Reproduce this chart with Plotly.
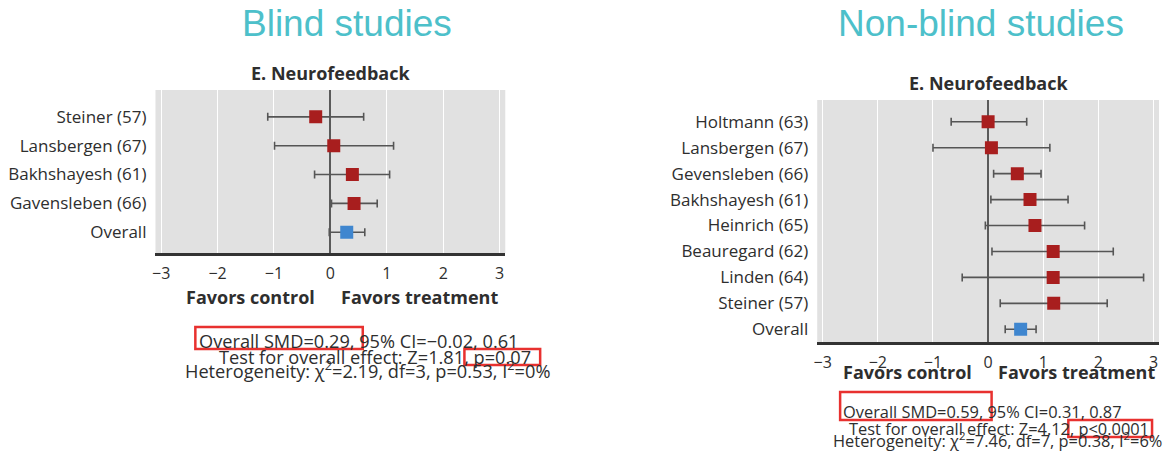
import plotly.graph_objects as go

# ---------------- data ----------------
blind_studies = ["Steiner (57)", "Lansbergen (67)", "Bakhshayesh (61)", "Gavensleben (66)", "Overall"]
blind_smd = [-0.26, 0.06, 0.39, 0.42, 0.29]
blind_ci_low = [-1.11, -0.99, -0.28, 0.02, -0.02]
blind_ci_high = [0.59, 1.12, 1.05, 0.83, 0.61]

nonblind_studies = ["Holtmann (63)", "Lansbergen (67)", "Gevensleben (66)", "Bakhshayesh (61)",
                    "Heinrich (65)", "Beauregard (62)", "Linden (64)", "Steiner (57)", "Overall"]
nonblind_smd = [0.00, 0.06, 0.53, 0.76, 0.85, 1.18, 1.18, 1.19, 0.59]
nonblind_ci_low = [-0.67, -1.00, 0.10, 0.05, -0.05, 0.07, -0.47, 0.22, 0.31]
nonblind_ci_high = [0.70, 1.12, 0.96, 1.45, 1.75, 2.27, 2.82, 2.16, 0.87]

x_ticks = [-3, -2, -1, 0, 1, 2, 3]

panel_titles = ["Blind studies", "Non-blind studies"]
subplot_title = "E. Neurofeedback"
favors_labels = ["Favors control", "Favors treatment"]

blind_stats = ["Overall SMD=0.29, 95% CI=\u22120.02, 0.61",
               "Test for overall effect: Z=1.81, p=0.07",
               "Heterogeneity: \u03c7<sup>2</sup>=2.19, df=3, p=0.53, I<sup>2</sup>=0%"]
nonblind_stats = ["Overall SMD=0.59, 95% CI=0.31, 0.87",
                  "Test for overall effect: Z=4.12, p<0.0001",
                  "Heterogeneity: \u03c7<sup>2</sup>=7.46, df=7, p=0.38, I<sup>2</sup>=6%"]

# ---------------- style ----------------
W, H = 1166, 466
FONT = "Open Sans"
RED = "#A81E1E"
BLUE = "#3F86CF"
TEAL = "#4DC0CA"
BAR = "#555555"
TXT = "#2e2e2e"


def px(x):
    return x / W


def py(y):
    return 1 - y / H


fig = go.Figure()


def add_panel(studies, smd, lo, hi, xa, ya):
    colors = [BLUE if s == "Overall" else RED for s in studies]
    fig.add_trace(go.Scatter(
        x=smd, y=list(range(len(studies))), mode="markers",
        marker=dict(symbol="square", size=13, color=colors, line=dict(width=0)),
        error_x=dict(type="data", symmetric=False,
                     array=[h - m for h, m in zip(hi, smd)],
                     arrayminus=[m - l for m, l in zip(smd, lo)],
                     color=BAR, thickness=1.6, width=4),
        xaxis=xa, yaxis=ya, showlegend=False, hoverinfo="skip"))


add_panel(blind_studies, blind_smd, blind_ci_low, blind_ci_high, "x", "y")
add_panel(nonblind_studies, nonblind_smd, nonblind_ci_low, nonblind_ci_high, "x2", "y2")

xaxis_common = dict(range=[-3.1, 3.1], tickvals=x_ticks, showgrid=True, gridcolor="white",
                    gridwidth=1.2, zeroline=True, zerolinecolor="#5a5a5a", zerolinewidth=1.6,
                    showline=True, linecolor="#333333", linewidth=3, ticks="",
                    ticklabelstandoff=4,
                    tickfont=dict(family=FONT, size=16, color=TXT), fixedrange=True)
yaxis_common = dict(showgrid=False, zeroline=False, ticks="", showline=False,
                    ticklabelstandoff=8,
                    tickfont=dict(family=FONT, size=17, color=TXT), fixedrange=True)

n1, n2 = len(blind_studies), len(nonblind_studies)
fig.update_layout(
    width=W, height=H, margin=dict(l=0, r=0, t=0, b=0),
    paper_bgcolor="white", plot_bgcolor="#E1E1E1",
    xaxis=dict(domain=[px(152), px(503)], anchor="y", **xaxis_common),
    yaxis=dict(domain=[py(253), py(90)], anchor="x", range=[n1 - 1 + 0.72, -0.93],
               tickvals=list(range(n1)), ticktext=blind_studies, **yaxis_common),
    xaxis2=dict(domain=[px(816), px(1159)], anchor="y2", **xaxis_common),
    yaxis2=dict(domain=[py(342), py(100)], anchor="x2", range=[n2 - 1 + 0.49, -0.84],
                tickvals=list(range(n2)), ticktext=nonblind_studies, **yaxis_common),
)

ann = []


def text(x, y, s, size=16, bold=False, color=TXT, family=FONT, xanchor="center"):
    ann.append(dict(x=px(x), y=py(y), xref="paper", yref="paper", text=(f"<b>{s}</b>" if bold else s),
                    showarrow=False, xanchor=xanchor, yanchor="middle", borderpad=0,
                    font=dict(family=family, size=size, color=color)))


# big panel titles
text(344, 23, panel_titles[0], size=37, color=TEAL, family="Liberation Sans")
text(980, 23, panel_titles[1], size=37, color=TEAL, family="Liberation Sans")
# subplot titles
text(328, 73, subplot_title, size=18, bold=True)
text(988, 83, subplot_title, size=18, bold=True)
# favors labels
text(247, 297, favors_labels[0], size=18, bold=True)
text(417, 297, favors_labels[1], size=18, bold=True)
text(907, 372, favors_labels[0], size=18, bold=True)
text(1076, 372, favors_labels[1], size=18, bold=True)
# stats lines (first line left-aligned to its box, second right-aligned to its box)
text(195, 341, blind_stats[0], size=18.2, xanchor="left")
text(530, 357, blind_stats[1], size=18.2, xanchor="right")
text(365, 369, blind_stats[2], size=18.2)
text(841, 411, nonblind_stats[0], size=16.4, xanchor="left")
text(1150, 428, nonblind_stats[1], size=16.4, xanchor="right")
text(997, 440, nonblind_stats[2], size=16.4)

fig.update_layout(annotations=ann)

# red highlight boxes
boxes = [(192, 327, 360, 349), (462, 349, 538, 365),
         (839, 392, 991, 420), (1068, 420, 1152, 437)]
for x0, y0, x1, y1 in boxes:
    fig.add_shape(type="rect", xref="paper", yref="paper",
                  x0=px(x0), x1=px(x1), y0=py(y1), y1=py(y0),
                  line=dict(color="#E8312F", width=2.5), fillcolor="rgba(0,0,0,0)")

fig.write_html("out.html", config={"displayModeBar": False},
               post_script="document.body.style.margin='0px';document.body.style.overflow='hidden';")
